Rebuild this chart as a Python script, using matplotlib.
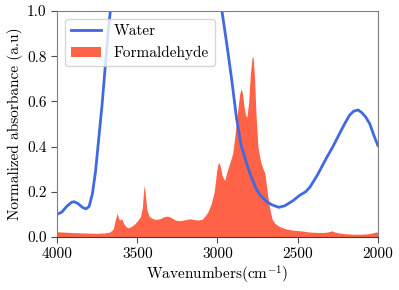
import numpy as np
import matplotlib
matplotlib.use("Agg")
import matplotlib.pyplot as plt

plt.rcParams['font.family'] = 'serif'
plt.rcParams['font.serif'] = ['cmr10']
plt.rcParams['mathtext.fontset'] = 'cm'
plt.rcParams['axes.formatter.use_mathtext'] = True
plt.rcParams['axes.unicode_minus'] = False

# water spectrum (wavenumber, normalized absorbance)
water_wn = [4000, 3970, 3940, 3910, 3895, 3870, 3840, 3820, 3800, 3780, 3760,
            3745, 3720, 3700, 3680, 3660, 3620, 3550, 3400, 3200, 3050, 3000,
            2972, 2940, 2910, 2882, 2854, 2820, 2797, 2760, 2735, 2693, 2660,
            2617, 2580, 2530, 2486, 2450, 2424, 2380, 2320, 2280, 2237, 2200,
            2175, 2150, 2123, 2100, 2075, 2050, 2025, 2000]
water_abs = [0.10, 0.11, 0.135, 0.153, 0.156, 0.148, 0.13, 0.124, 0.135, 0.19, 0.29,
             0.40, 0.58, 0.75, 0.92, 1.05, 1.25, 1.5, 1.7, 1.6, 1.3, 1.1,
             1.0, 0.845, 0.69, 0.53, 0.41, 0.33, 0.28, 0.215, 0.186, 0.156, 0.142,
             0.131, 0.138, 0.160, 0.185, 0.20, 0.22, 0.27, 0.35, 0.40, 0.46, 0.51,
             0.54, 0.557, 0.562, 0.55, 0.53, 0.50, 0.45, 0.405]

# formaldehyde spectrum
form_wn = [4000, 3950, 3900, 3850, 3800, 3750, 3700, 3670, 3650, 3635, 3625,
           3615, 3605, 3597, 3585, 3570, 3557, 3540, 3520, 3500, 3480, 3468,
           3460, 3456, 3450, 3440, 3425, 3400, 3380, 3360, 3340, 3320, 3300,
           3280, 3260, 3233, 3210, 3190, 3170, 3150, 3120, 3097, 3080, 3060,
           3040, 3020, 3005, 2995, 2985, 2970, 2955, 2940, 2922, 2905, 2891,
           2875, 2862, 2854, 2845, 2835, 2825, 2816, 2805, 2795, 2785, 2778,
           2770, 2760, 2748, 2730, 2715, 2704, 2690, 2675, 2660, 2642, 2611,
           2570, 2530, 2480, 2430, 2380, 2330, 2300, 2285, 2270, 2240, 2200,
           2150, 2100, 2060, 2030, 2010, 2000]
form_abs = [0.023, 0.021, 0.019, 0.018, 0.017, 0.016, 0.018, 0.022, 0.035, 0.08, 0.105,
            0.08, 0.075, 0.08, 0.06, 0.045, 0.04, 0.045, 0.055, 0.07, 0.09, 0.13,
            0.21, 0.227, 0.19, 0.12, 0.09, 0.08, 0.078, 0.08, 0.087, 0.092, 0.09,
            0.082, 0.074, 0.072, 0.075, 0.078, 0.08, 0.077, 0.075, 0.078, 0.09, 0.11,
            0.145, 0.2, 0.29, 0.33, 0.32, 0.27, 0.25, 0.29, 0.33, 0.37, 0.45,
            0.55, 0.63, 0.655, 0.64, 0.58, 0.54, 0.53, 0.60, 0.72, 0.79, 0.80,
            0.72, 0.55, 0.40, 0.33, 0.30, 0.28, 0.20, 0.13, 0.08, 0.06, 0.045,
            0.035, 0.03, 0.027, 0.022, 0.02, 0.02, 0.024, 0.027, 0.022, 0.017, 0.014,
            0.012, 0.012, 0.014, 0.018, 0.022, 0.02]

fig = plt.figure(figsize=(3.99, 2.90), dpi=100)
ax = fig.add_axes([0.143, 0.183, 0.804, 0.779])

ax.plot(water_wn, water_abs, color='royalblue', lw=2, label='Water')
ax.fill_between(form_wn, form_abs, 0, color='tomato', lw=0, label='Formaldehyde')

ax.set_xlim(4000, 2000)
ax.set_ylim(0, 1)
ax.set_xticks([4000, 3500, 3000, 2500, 2000])
ax.set_yticks([0, 0.2, 0.4, 0.6, 0.8, 1.0])
ax.set_xticklabels(['4000', '3500', '3000', '2500', '2000'])
ax.set_yticklabels(['0.0', '0.2', '0.4', '0.6', '0.8', '1.0'])
ax.tick_params(labelsize=11, color='0.3', length=4)
for s in ax.spines.values():
    s.set_color('0.5')
ax.spines['bottom'].set_color('0.25')
ax.set_xlabel(r'Wavenumbers(cm$^{-1}$)', fontsize=11, labelpad=2)
ax.set_ylabel('Normalized absorbance (a.u)', fontsize=11, labelpad=3)
ax.legend(loc='upper left', fontsize=11)

fig.savefig('out.png', dpi=100)
